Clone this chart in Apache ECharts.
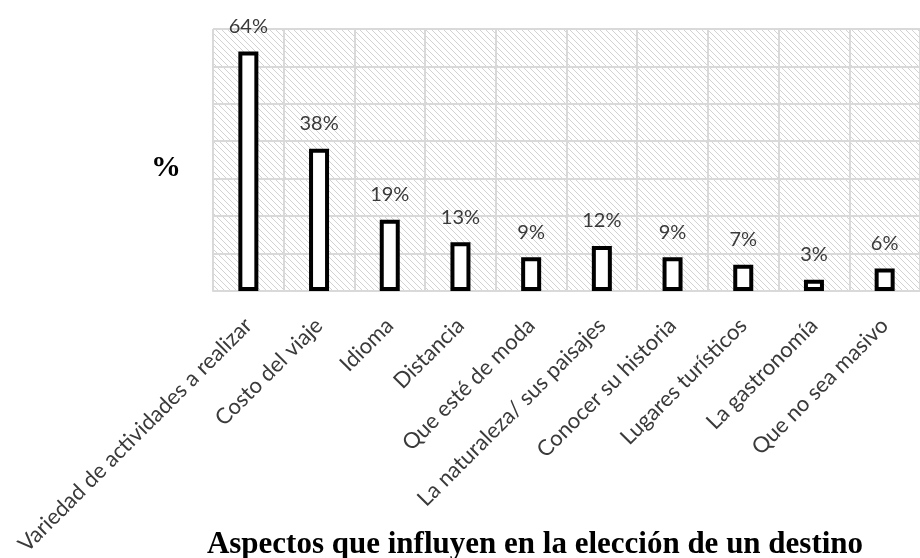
<!DOCTYPE html>
<html>
<head>
<meta charset="utf-8">
<script src="https://cdn.jsdelivr.net/npm/echarts@6/dist/echarts.min.js"></script>
<style>
  html, body { margin: 0; padding: 0; background: #ffffff; }
  #chart { width: 920px; height: 558px; }
</style>
</head>
<body>
<div id="chart"></div>
<script>
// Aspects that influence the choice of a destination (percent of respondents)
const categories = [
  'Variedad de actividades a realizar',
  'Costo del viaje',
  'Idioma',
  'Distancia',
  'Que esté de moda',
  'La naturaleza/ sus paisajes',
  'Conocer su historia',
  'Lugares turísticos',
  'La gastronomía',
  'Que no sea masivo'
];
const percentValues = [64, 38, 19, 13, 9, 12, 9, 7, 3, 6];
const chartTitle = 'Aspectos que influyen en la elección de un destino';
const axisName = '%';

// Diagonal hatch used as the plot-area fill
function makeHatch() {
  const c = document.createElement('canvas');
  const s = 6;
  c.width = s; c.height = s;
  const ctx = c.getContext('2d');
  ctx.fillStyle = '#ffffff';
  ctx.fillRect(0, 0, s, s);
  ctx.strokeStyle = '#d2d2d2';
  ctx.lineWidth = 1;
  ctx.beginPath();
  ctx.moveTo(-1, -1); ctx.lineTo(s + 1, s + 1);
  ctx.moveTo(-1, s - 1); ctx.lineTo(1, s + 1);
  ctx.moveTo(s - 1, -1); ctx.lineTo(s + 1, 1);
  ctx.stroke();
  return c;
}

const labelFont = 'Lato, "Open Sans", sans-serif';
const serifFont = '"Liberation Serif", "Times New Roman", serif';

const chart = echarts.init(document.getElementById('chart'), null, { renderer: 'canvas' });

chart.setOption({
  animation: false,
  backgroundColor: '#ffffff',
  grid: {
    left: 213,
    top: 29,
    width: 716,
    height: 263,
    show: true,
    borderWidth: 0,
    backgroundColor: { image: makeHatch(), repeat: 'repeat' }
  },
  graphic: [
    {
      type: 'text',
      x: 166,
      y: 168,
      style: {
        text: axisName,
        font: 'bold 30px ' + serifFont,
        fill: '#000000',
        align: 'center',
        verticalAlign: 'middle'
      }
    },
    {
      type: 'text',
      x: 535,
      y: 545,
      style: {
        text: chartTitle,
        font: 'bold 31px ' + serifFont,
        fill: '#000000',
        align: 'center',
        verticalAlign: 'middle'
      }
    }
  ],
  xAxis: {
    type: 'category',
    data: categories,
    boundaryGap: true,
    axisLine: { show: true, lineStyle: { color: '#d9d9d9', width: 2 } },
    axisTick: { show: false },
    splitLine: { show: true, interval: 0, lineStyle: { color: '#d9d9d9', width: 2 } },
    axisLabel: {
      interval: 0,
      rotate: 45,
      margin: 31,
      fontFamily: labelFont,
      fontSize: 22,
      color: '#3a3a3a'
    }
  },
  yAxis: {
    type: 'value',
    min: 0,
    max: 70,
    interval: 10,
    axisLine: { show: false },
    axisTick: { show: false },
    axisLabel: { show: false },
    splitLine: { show: true, lineStyle: { color: '#d9d9d9', width: 2 } }
  },
  series: [{
    type: 'bar',
    data: percentValues,
    barWidth: 20,
    itemStyle: { color: '#ffffff', borderColor: '#000000', borderWidth: 4 },
    label: {
      show: true,
      position: 'top',
      distance: 15,
      formatter: '{c}%',
      fontFamily: labelFont,
      fontSize: 20,
      color: '#3a3a3a'
    }
  }]
});
</script>
</body>
</html>
